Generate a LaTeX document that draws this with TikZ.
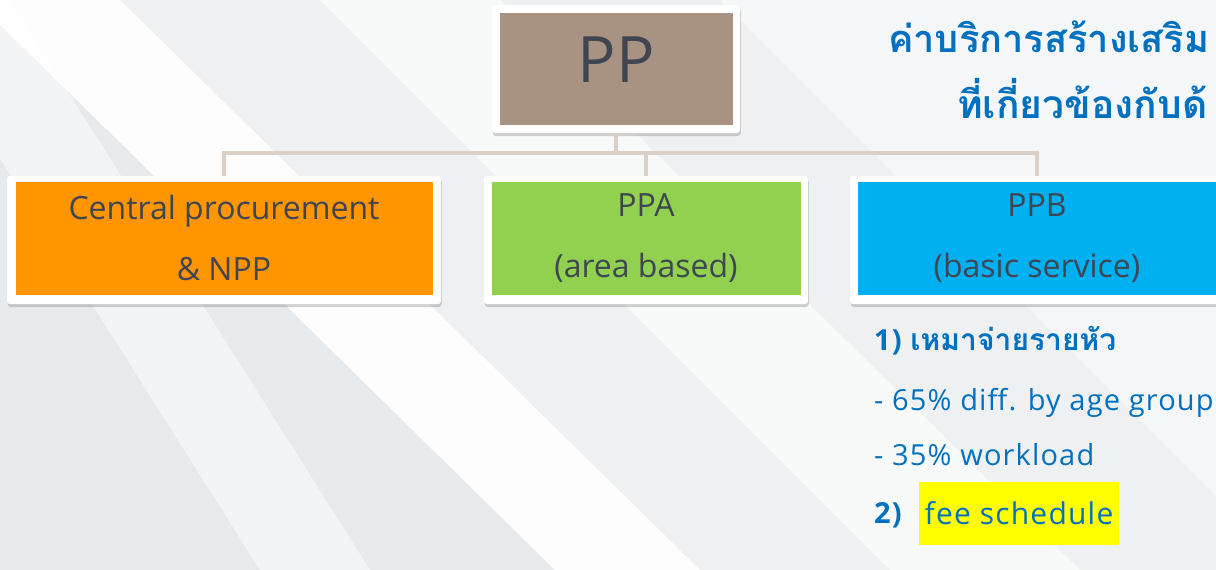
\documentclass[tikz,border=0pt]{standalone}
\usepackage{fontspec}
\setmainfont{Open Sans}
\newfontfamily\lstfont[LetterSpace=4]{Open Sans}
\newfontfamily\thai[Script=Thai]{Loma}
\usetikzlibrary{shadows}
\definecolor{ppbrown}{HTML}{A89282}
\definecolor{cporange}{HTML}{FF9500}
\definecolor{ppagreen}{HTML}{92D050}
\definecolor{ppbblue}{HTML}{00B0F0}
\definecolor{boxtext}{HTML}{3F4651}
\definecolor{connc}{HTML}{DCCFC5}
\definecolor{tblue}{HTML}{0070C0}
\definecolor{bgbase}{HTML}{EEF0F2}
\definecolor{bgdark}{HTML}{E7EAED}
\definecolor{hl}{RGB}{255,255,0}
\begin{document}
\begin{tikzpicture}[x=1pt,y=-1pt,
  frame/.style={fill=white, rounded corners=3pt, inner sep=0pt, minimum height=128pt,
    drop shadow={shadow xshift=0.8pt, shadow yshift=-3pt, opacity=0.35}},
  inbox/.style={fill=#1, inner sep=0pt, minimum height=113pt, text=boxtext, align=center,
    font=\fontsize{32}{61}\selectfont},
  conn/.style={draw=connc, line width=4.5pt},
  lst/.style={anchor=base west, inner sep=0pt, text=tblue, font=\lstfont\fontsize{29}{29}\selectfont},
  lstb/.style={lst, font=\lstfont\bfseries\fontsize{29}{29}\selectfont},
  ttl/.style={anchor=base west, inner sep=0pt, text=tblue, font=\thai\bfseries\fontsize{39}{39}\selectfont}
]
\useasboundingbox (0,0) rectangle (1216,570);
% background
\fill[bgbase] (0,0) rectangle (1216,570);
\begin{scope}
\clip (0,0) rectangle (1216,570);
\fill[bgdark] (-25,0) -- (555,570) -- (-25,570) -- cycle;
\fill[white, opacity=0.9] (-25,0) -- (555,570) -- (700,570) -- (120,0) -- cycle;
\fill[white, opacity=0.6] (320,0) -- (890,570) -- (1080,570) -- (500,0) -- cycle;
\fill[white, opacity=0.4] (720,0) -- (1290,570) -- (1300,0) -- cycle;
\fill[white, opacity=0.5] (-100,0) -- (10,0) -- (370,570) -- (260,570) -- cycle;
\end{scope}
% boxes
\node[frame, minimum width=248pt] (ppf) at (616,69) {};
\node[inbox=ppbrown, minimum width=233pt, minimum height=112pt] (pp) at (ppf.center) {};
\node[text=boxtext, inner sep=0pt, font=\fontsize{64}{64}\selectfont] (pptxt) at ([yshift=9pt]pp.center) {PP};

\node[frame, minimum width=434pt] (cpf) at (224,240) {};
\node[inbox=cporange, minimum width=417pt] (cp) at ([yshift=2pt]cpf.center) {Central procurement\\\& NPP};

\node[frame, minimum width=324pt] (paf) at (646,240) {};
\node[inbox=ppagreen, minimum width=309pt] (pa) at ([yshift=2pt]paf.center) {PPA\\(area based)};

\node[frame, minimum width=374pt] (pbf) at (1037,240) {};
\node[inbox=ppbblue, minimum width=359pt] (pb) at ([yshift=2pt]pbf.center) {PPB\\(basic service)};

% connectors
\draw[conn] (ppf.south) -- ++(0,20) coordinate (bus);
\draw[conn] (bus) -| (cpf.north);
\draw[conn] (bus) -| (paf.north);
\draw[conn] (bus) -| (pbf.north);

% title
\node[ttl, font=\thai\bfseries\fontsize{38}{38}\selectfont] (t1) at (888,52) {ค่าบริการสร้างเสริม};
\node[ttl] (t2) at (957,118) {ที่เกี่ยวข้องกับด้};

% list
\node[lstb] (l1) at (874,350) {1) {\thai\fontsize{30}{30}\selectfont เหมาจ่ายรายหัว}};
\node[lst] (l2) at (874,410) {- 65\% diff. by age group};
\node[lst] (l3) at (874,465) {- 35\% workload};
\node[lstb] (l4) at (874,523) {2)};
\node[fill=hl, inner sep=0pt, minimum width=200pt, minimum height=63pt, text=tblue,
  font=\lstfont\fontsize{30}{30}\selectfont] (fee) at (1019,513.5) {fee schedule};
\end{tikzpicture}
\end{document}
